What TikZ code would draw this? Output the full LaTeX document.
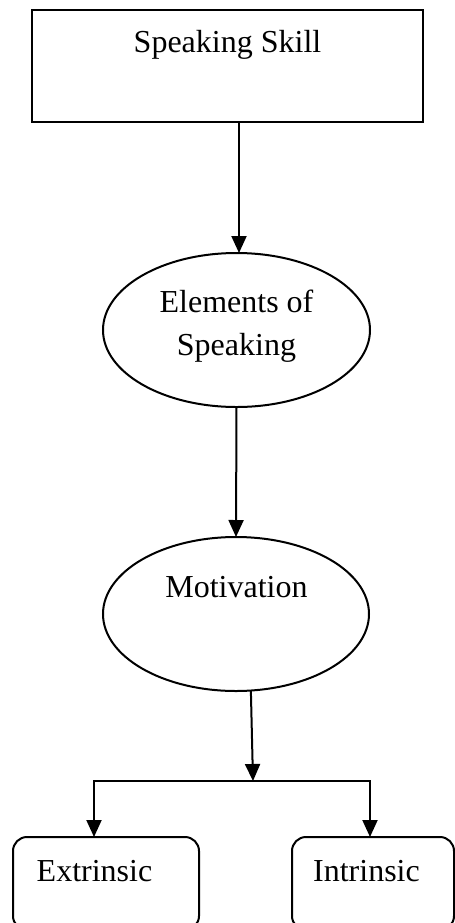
\documentclass[tikz,border=0pt]{standalone}
\usepackage{fontspec}
\setmainfont{Liberation Serif}
\usetikzlibrary{shapes.geometric,arrows.meta}
\begin{document}
\begin{tikzpicture}[x=0.5pt,y=-0.5pt,
  every node/.style={inner sep=0pt,outer sep=0pt},
  shp/.style={draw=black,line width=1pt},
  lbl/.style={anchor=base,font=\fontsize{16}{21.5}\selectfont},
  arr/.style={draw=black,line width=1pt,-{Triangle[length=8.5pt,width=7.5pt]}},
  darr/.style={draw=black,line width=1pt,{Triangle[length=8.5pt,width=7.5pt]}-{Triangle[length=8.5pt,width=7.5pt]}}]
\clip (0,0) rectangle (455,923);
% shapes
\node[shp,rectangle,minimum width=195.5pt,minimum height=56pt] (top) at (227.5,66) {};
\node[shp,ellipse,minimum width=133.5pt,minimum height=77pt] (e1) at (236.5,330) {};
\node[shp,ellipse,minimum width=133pt,minimum height=77pt] (e2) at (236,614) {};
\node[shp,rectangle,rounded corners=7pt,minimum width=93pt,minimum height=46.5pt] (L) at (106,883.5) {};
\node[shp,rectangle,rounded corners=7pt,minimum width=81pt,minimum height=46.5pt] (R) at (373,883.5) {};
% texts
\node[lbl] (t1) at (227.5,52) {Speaking Skill};
\node[lbl] (t2a) at (236.5,312) {Elements of};
\node[lbl] (t2b) at (236.5,355) {Speaking};
\node[lbl] (t3) at (236.5,597) {Motivation};
\node[lbl] (t4) at (94.5,881) {Extrinsic};
\node[lbl] (t5) at (366.5,881) {Intrinsic};
% connectors
\coordinate (j) at (253,781);
\coordinate (jl) at (94,781);
\coordinate (jr) at (370,781);
\draw[arr] (top.south -| 239,0) -- (239,0 |- e1.north);
\draw[arr] (e1.south) -- (e2.north);
\draw[arr] (e2.-79) -- (j);
\draw[darr] (jl |- L.north) -- (jl) -- (jr) -- (jr |- R.north);
\end{tikzpicture}
\end{document}
